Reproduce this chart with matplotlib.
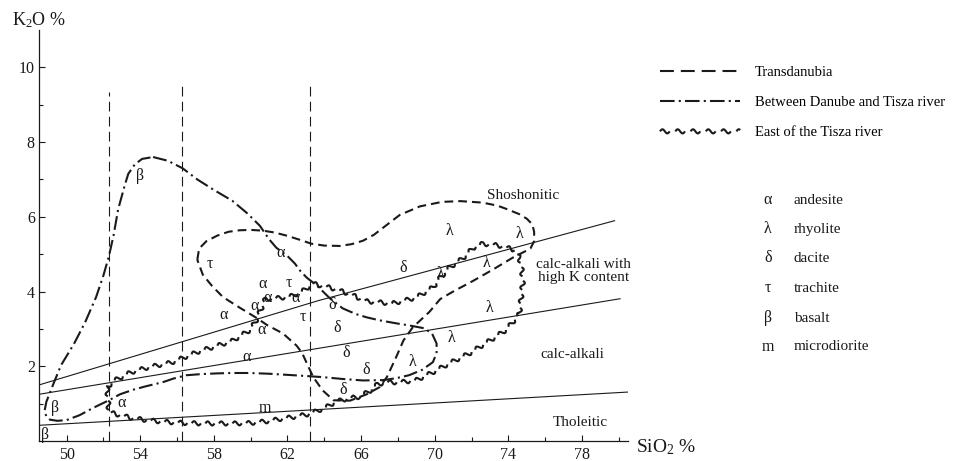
import numpy as np
import matplotlib
matplotlib.use("Agg")
import matplotlib.pyplot as plt
from matplotlib.lines import Line2D
from matplotlib.patheffects import AbstractPathEffect
from matplotlib.path import Path
from matplotlib.transforms import IdentityTransform

plt.rcParams['font.family'] = ['Liberation Serif', 'DejaVu Serif']
plt.rcParams['mathtext.fontset'] = 'custom'
plt.rcParams['mathtext.rm'] = 'Liberation Serif'
plt.rcParams['mathtext.it'] = 'Liberation Serif:italic'
plt.rcParams['lines.scale_dashes'] = False

# ---------------- data ----------------
# Transdanubia field (dashed, closed)
transdanubia_sio2 = [57.1, 57.2, 57.6, 58.2, 58.8, 59.4, 60.0, 60.66, 61.3, 62.0, 62.7, 63.3, 64.0,
                     64.85, 65.5, 66.1, 66.7, 67.2, 68.1, 69.2, 70.4, 71.4, 72.6, 73.4, 73.9, 74.6,
                     75.0, 75.3, 75.4, 75.4, 75.2, 74.25, 73.2, 72.1, 71.0, 70.3, 69.7, 68.8, 68.3,
                     67.9, 67.4, 67.0, 66.3, 65.4, 64.5, 63.9, 63.4, 63.05, 62.8, 62.5, 61.75, 60.9,
                     60.3, 59.4, 58.5, 57.9, 57.4, 57.1]
transdanubia_k2o = [4.85, 5.15, 5.35, 5.5, 5.6, 5.64, 5.65, 5.63, 5.58, 5.49, 5.38, 5.28, 5.23,
                    5.22, 5.27, 5.36, 5.52, 5.71, 6.05, 6.28, 6.4, 6.42, 6.38, 6.3, 6.21, 6.07,
                    5.95, 5.8, 5.6, 5.35, 5.15, 4.91, 4.6, 4.29, 4.0, 3.8, 3.45, 3.04, 2.69,
                    2.24, 1.71, 1.44, 1.25, 1.08, 1.09, 1.36, 1.71, 2.08, 2.35, 2.55, 2.88, 3.1,
                    3.3, 3.57, 3.85, 4.15, 4.45, 4.85]

# Between Danube and Tisza river field (dash-dot, closed)
danube_tisza_sio2 = [54.7, 55.5, 56.3, 57.1, 58.0, 59.0, 59.8, 60.5, 61.0, 61.4, 62.0, 62.4, 62.7,
                     63.05, 63.6, 64.3, 65.0, 65.7, 66.3, 67.0, 67.9, 68.65, 69.4, 69.85, 70.1, 70.1,
                     69.9, 69.3, 68.6, 67.9, 67.2, 66.1, 65.0, 63.9, 63.0, 62.0, 61.0, 59.95, 59.0,
                     58.2, 57.3, 56.5, 55.8, 55.2, 54.35, 53.6, 52.9, 52.3, 51.5, 50.7, 50.0, 49.5,
                     49.1, 48.9, 48.8, 48.9, 49.3, 49.7, 50.4, 51.0, 51.6, 52.0, 52.3, 52.55, 52.8,
                     53.15, 53.35, 53.7, 54.1, 54.7]
danube_tisza_k2o = [7.6, 7.5, 7.3, 7.0, 6.72, 6.43, 6.1, 5.76, 5.4, 5.17, 4.95, 4.75, 4.55,
                    4.37, 4.16, 3.82, 3.55, 3.4, 3.31, 3.23, 3.15, 3.09, 3.02, 2.88, 2.61, 2.35,
                    2.11, 1.9, 1.76, 1.68, 1.63, 1.62, 1.66, 1.71, 1.74, 1.77, 1.8, 1.82, 1.82,
                    1.81, 1.79, 1.76, 1.67, 1.57, 1.47, 1.37, 1.25, 1.09, 0.9, 0.69, 0.56, 0.54,
                    0.57, 0.66, 0.8, 1.05, 1.55, 2.03, 2.6, 3.17, 3.85, 4.43, 4.95, 5.5, 6.2,
                    6.83, 7.15, 7.4, 7.55, 7.6]

# East of the Tisza river field (wavy, closed)
east_tisza_sio2 = [52.2, 52.25, 52.3, 53.0, 53.6, 54.5, 55.4, 56.5, 57.4, 58.2, 59.1, 59.95, 60.9,
                   61.75, 62.4, 63.05, 63.6, 64.1, 64.6, 65.4, 65.9, 66.5, 66.9, 67.4, 68.1, 69.0,
                   69.9, 70.8, 71.9, 73.0, 73.9, 74.6, 74.7, 74.8, 74.7, 74.6, 74.3, 73.5, 72.6,
                   72.1, 71.5, 70.8, 70.3, 69.9, 69.0, 67.7, 66.3, 65.4, 64.5, 63.4, 62.7, 62.1,
                   61.4, 60.8, 60.6, 60.3, 60.0, 59.0, 58.2, 57.2, 56.3, 55.7, 54.5, 53.5, 52.6,
                   52.2]
east_tisza_k2o = [1.44, 1.1, 0.77, 0.68, 0.61, 0.55, 0.51, 0.48, 0.47, 0.47, 0.47, 0.48, 0.53,
                  0.6, 0.65, 0.71, 0.8, 0.9, 1.05, 1.15, 1.18, 1.35, 1.52, 1.57, 1.57, 1.63,
                  1.84, 2.08, 2.35, 2.69, 2.98, 3.4, 3.84, 4.29, 4.69, 4.91, 5.12, 5.23, 5.28,
                  5.17, 4.88, 4.64, 4.37, 4.11, 3.84, 3.68, 3.74, 3.93, 4.08, 4.21, 3.97, 3.86,
                  3.82, 3.8, 3.57, 3.23, 2.98, 2.68, 2.55, 2.4, 2.22, 2.1, 1.98, 1.84, 1.62,
                  1.44]

# Classification boundary lines
shosh_sio2 = [48.5, 63.7, 79.8]
shosh_k2o = [1.5, 3.76, 5.9]
highk_sio2 = [48.5, 80.1]
highk_k2o = [1.25, 3.81]
thol_sio2 = [48.5, 80.5]
thol_k2o = [0.42, 1.31]

# Vertical dashed reference lines
vline_sio2 = [52.3, 56.25, 63.2]
vline_top = [9.35, 9.5, 9.6]

# Field names
field_names = ["Shoshonitic", "calc-alkali with\nhigh K content", "calc-alkali", "Tholeitic"]
field_sio2 = [74.8, 78.1, 77.5, 77.9]
field_k2o = [6.56, 4.56, 2.32, 0.5]

# Rock-type symbols placed in the diagram
sym_text = ["α"] * 9 + ["τ"] * 3 + ["β"] * 3 + ["λ"] * 7 + ["δ"] * 6 + ["m"]
sym_sio2 = [61.6, 60.65, 60.9, 62.45, 58.5, 60.2, 60.6, 59.8, 53.0,
            57.8, 62.05, 62.85,
            53.97, 49.35, 48.8,
            70.8, 74.6, 70.3, 72.8, 73.0, 70.9, 68.8,
            68.3, 64.45, 64.7, 65.2, 66.3, 65.0,
            60.8]
sym_k2o = [5.02, 4.2, 3.84, 3.84, 3.38, 3.6, 2.96, 2.24, 1.01,
           4.74, 4.22, 3.33,
           7.09, 0.88, 0.16,
           5.63, 5.55, 4.48, 4.77, 3.55, 2.77, 2.11,
           4.64, 3.63, 3.02, 2.35, 1.89, 1.36,
           0.88]

# Key
key_symbols = ["α", "λ", "δ", "τ", "β", "m"]
key_names = ["andesite", "rhyolite", "dacite", "trachite", "basalt", "microdiorite"]
legend_labels = ["Transdanubia", "Between Danube and Tisza river", "East of the Tisza river"]

x_ticks = [50, 54, 58, 62, 66, 70, 74, 78]
y_ticks = [2, 4, 6, 8, 10]


# ------------- wavy (tilde) stroke -------------
class TildeStroke(AbstractPathEffect):
    def __init__(self, seg=6.6, gap=3.2, amp=1.5):
        super().__init__()
        self.seg, self.gap, self.amp = seg, gap, amp

    def draw_path(self, renderer, gc, tpath, affine, rgbFace=None):
        pts = affine.transform(tpath.vertices)
        d = np.hypot(*np.diff(pts, axis=0).T)
        keep = np.concatenate([[True], d > 1e-9])
        pts = pts[keep]
        if len(pts) < 2:
            return
        d = np.hypot(*np.diff(pts, axis=0).T)
        s = np.concatenate([[0.0], np.cumsum(d)])
        total = s[-1]
        k = renderer.points_to_pixels(1.0)
        seg, gap, amp = self.seg * k, self.gap * k, self.amp * k
        verts, codes = [], []
        start = 0.0
        while start < total - 1e-6:
            end = min(start + seg, total)
            ss = np.linspace(start, end, 14)
            idx = np.clip(np.searchsorted(s, ss, side='right') - 1, 0, len(d) - 1)
            tx = (pts[idx + 1, 0] - pts[idx, 0]) / d[idx]
            ty = (pts[idx + 1, 1] - pts[idx, 1]) / d[idx]
            x = np.interp(ss, s, pts[:, 0])
            y = np.interp(ss, s, pts[:, 1])
            off = amp * np.sin(2 * np.pi * (ss - start) / seg)
            x = x - ty * off
            y = y + tx * off
            for i in range(len(ss)):
                verts.append((x[i], y[i]))
                codes.append(Path.MOVETO if i == 0 else Path.LINETO)
            start += seg + gap
        if verts:
            renderer.draw_path(gc, Path(np.array(verts), codes), IdentityTransform(), rgbFace)


# ---------------- figure ----------------
fig = plt.figure(figsize=(9.57, 4.61), dpi=100)
ax = fig.add_axes([39 / 957, 20 / 461, 589 / 957, 411 / 461])
ax.set_xlim(48.5, 80.5)
ax.set_ylim(0, 11)

ink = '#1a1a1a'
fs = 11
fs_sym = 11.5
fs_tick = 11.5

# boundary lines
for xs, ys in [(shosh_sio2, shosh_k2o), (highk_sio2, highk_k2o), (thol_sio2, thol_k2o)]:
    ax.plot(xs, ys, color=ink, lw=0.8, solid_capstyle='butt')

# vertical dashed lines
ax.vlines(vline_sio2, 0, vline_top, colors=ink, lw=0.8, linestyles=[(0, (7.0, 3.8))])

dash_style = (0, (6.3, 3.6))
dashdot_style = (0, (10.0, 3.0, 1.5, 3.0))
curve_lw = 1.5

ax.plot(transdanubia_sio2, transdanubia_k2o, color=ink, lw=curve_lw, linestyle=dash_style,
        dash_capstyle='butt')
ax.plot(danube_tisza_sio2, danube_tisza_k2o, color=ink, lw=curve_lw, linestyle=dashdot_style,
        dash_capstyle='butt')
ax.plot(east_tisza_sio2, east_tisza_k2o, color=ink, lw=curve_lw, solid_capstyle='butt',
        path_effects=[TildeStroke()])

# symbols
for t, xv, yv in zip(sym_text, sym_sio2, sym_k2o):
    ax.text(xv, yv, t, fontsize=fs_sym, ha='center', va='center', color=ink, clip_on=False)

# field names
for t, xv, yv in zip(field_names, field_sio2, field_k2o):
    ax.text(xv, yv, t, fontsize=fs, ha='center', va='center', color=ink,
            linespacing=1.0, clip_on=False)

# axes styling
for side in ['top', 'right']:
    ax.spines[side].set_visible(False)
for side in ['left', 'bottom']:
    ax.spines[side].set_linewidth(0.9)
    ax.spines[side].set_color(ink)
ax.set_xticks(x_ticks)
ax.set_xticks(np.arange(52, 81, 4), minor=True)
ax.set_yticks(y_ticks)
ax.set_yticks(np.arange(1, 11, 2), minor=True)
ax.tick_params(which='both', direction='in', color=ink, width=0.8, labelsize=fs_tick, labelcolor=ink)
ax.tick_params(which='major', length=4)
ax.tick_params(which='minor', length=3)
ax.tick_params(axis='x', pad=4)
ax.tick_params(axis='y', pad=3)

fig.text(12 / 957, 1 - 20 / 461, r"K$_\mathrm{2}$O %", fontsize=13, ha='left', va='center',
         color=ink)
fig.text(636 / 957, 1 - 447 / 461, r"SiO$_\mathrm{2}$ %", fontsize=14, ha='left', va='center',
         color=ink)

# legend of provinces
handles = [
    Line2D([0], [0], color=ink, lw=curve_lw, linestyle=(0, (10.0, 5.0)), dash_capstyle='butt'),
    Line2D([0], [0], color=ink, lw=curve_lw, linestyle=(0, (10.5, 3.0, 1.5, 3.0)), dash_capstyle='butt'),
    Line2D([0], [0], color=ink, lw=curve_lw, solid_capstyle='butt',
           path_effects=[TildeStroke(seg=7.0, gap=4.0, amp=1.5)]),
]
fig.legend(handles, legend_labels, loc='upper left', bbox_to_anchor=(660 / 957, 1 - 66 / 461),
           frameon=False, fontsize=10.5, handlelength=5.5, handletextpad=1.0, labelspacing=1.16,
           borderpad=0, borderaxespad=0)

# key of rock symbols
key_y = [200, 229, 258, 288, 318, 347]
for sym, name, yp in zip(key_symbols, key_names, key_y):
    fig.text(768 / 957, 1 - yp / 461, sym, fontsize=fs_sym, ha='center', va='center', color=ink)
    fig.text(794 / 957, 1 - yp / 461, name, fontsize=fs, ha='left', va='center', color=ink)

fig.savefig("out.png", dpi=100)
